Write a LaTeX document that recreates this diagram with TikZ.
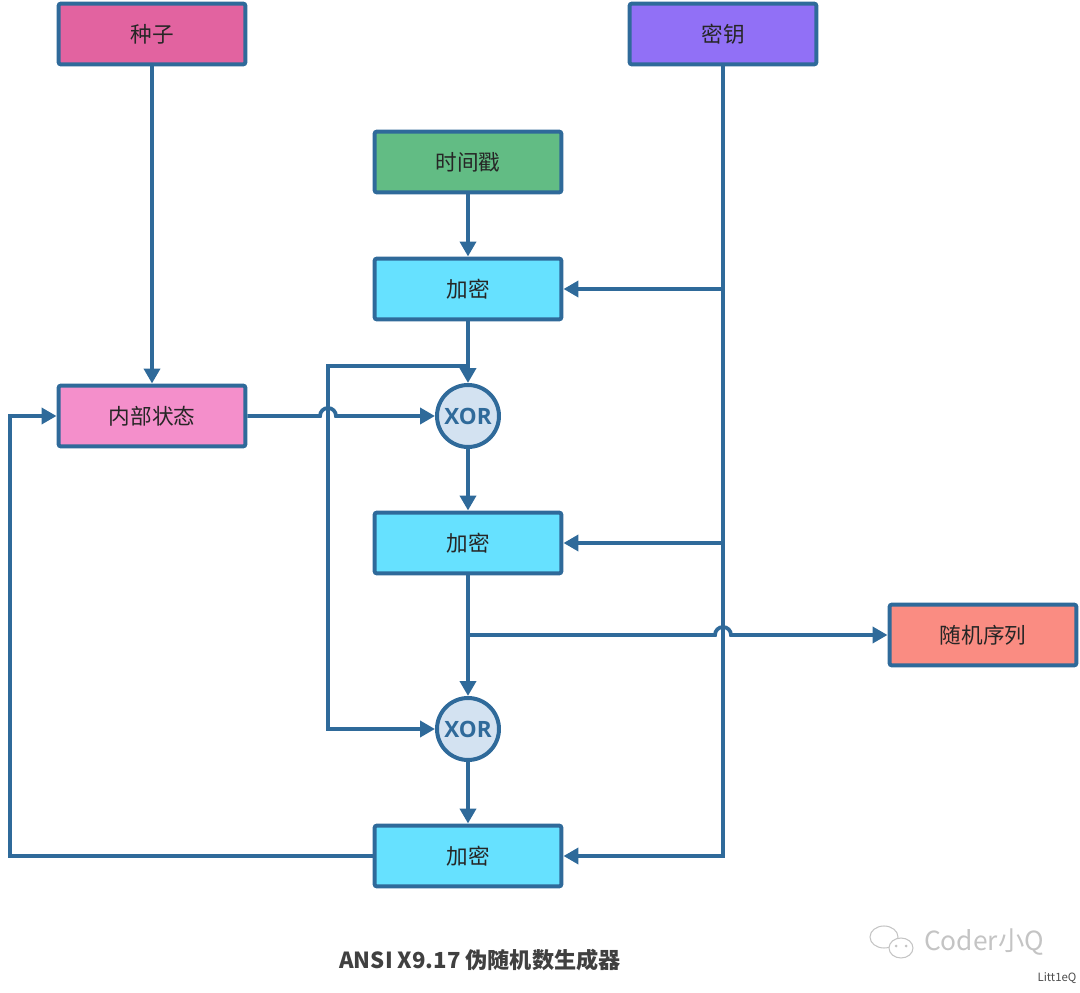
\documentclass[tikz,border=0pt]{standalone}
\usepackage{fontspec}
\setmainfont{Noto Sans CJK SC}
\newfontfamily\xorfont{Open Sans}
\usetikzlibrary{arrows.meta}
\definecolor{ln}{HTML}{2F6A9A}
\definecolor{seedc}{HTML}{E263A0}
\definecolor{keyc}{HTML}{9170F6}
\definecolor{tsc}{HTML}{62BC84}
\definecolor{encc}{HTML}{66E1FF}
\definecolor{statec}{HTML}{F48FCB}
\definecolor{randc}{HTML}{FA8C82}
\definecolor{xorc}{HTML}{D3E2F1}
\definecolor{titlec}{HTML}{404040}
\definecolor{wmc}{HTML}{C4C4C4}
\begin{document}
\begin{tikzpicture}[x=0.02cm,y=-0.02cm,
  box/.style={draw=ln,line width=0.08cm,rounded corners=1.5pt,minimum width=3.74cm,minimum height=1.22cm,inner sep=0pt,font=\fontsize{12.3}{14}\selectfont,text=black!85},
  con/.style={draw=ln,line width=0.075cm},
  arr/.style={con,-{Triangle[length=0.3cm,width=0.32cm]}},
  xor/.style={circle,draw=ln,fill=xorc,line width=0.08cm,minimum size=1.24cm,inner sep=0pt,font=\xorfont\bfseries\fontsize{12.8}{14}\selectfont,text=ln}]
\useasboundingbox (0,0) rectangle (1080,993);
% nodes
\node[box,fill=seedc] (seed) at (152,34) {种子};
\node[box,fill=keyc] (key) at (723,34) {密钥};
\node[box,fill=tsc] (ts) at (468,162) {时间戳};
\node[box,fill=encc] (enc1) at (468,289) {加密};
\node[box,fill=statec] (state) at (152,416) {内部状态};
\node[xor] (xor1) at (468,416) {XOR};
\node[box,fill=encc] (enc2) at (468,543) {加密};
\node[box,fill=randc] (rand) at (983,635) {随机序列};
\node[xor] (xor2) at (468,729) {XOR};
\node[box,fill=encc] (enc3) at (468,856) {加密};
% helper coordinates
\coordinate (sp1) at (468,366);
\coordinate (c1) at (328,366);
\coordinate (sp2) at (468,635);
\coordinate (lb) at (10,416);
% connectors
\draw[arr] (seed) -- (state);
\draw[arr] (ts) -- (enc1);
\draw[arr] (enc1) -- (xor1);
\draw[arr] (xor1) -- (enc2);
\draw[arr] (enc2) -- (xor2);
\draw[arr] (xor2) -- (enc3);
\draw[arr] (key.south) |- (enc3.east);
\draw[arr] (key.south |- enc1.east) -- (enc1.east);
\draw[arr] (key.south |- enc2.east) -- (enc2.east);
\draw[arr] (sp1) -- (c1) |- (xor2.west);
\draw[arr] (state.east) -- ([xshift=-0.16cm]c1 |- state.east) arc[start angle=180,end angle=0,radius=0.16cm] -- (xor1.west);
\draw[arr] (sp2) -- ([xshift=-0.16cm]key.south |- sp2) arc[start angle=180,end angle=0,radius=0.16cm] -- (rand.west);
\draw[arr] (enc3.west) -| (lb) -- (state.west);
% title
\node[font=\bfseries\fontsize{12.6}{14}\selectfont,text=titlec] (title) at (480,960) {ANSI X9.17 伪随机数生成器};
% watermark
\draw[wmc,line width=0.6pt] (884,937) ellipse [x radius=0.28cm,y radius=0.22cm];
\draw[wmc,line width=0.6pt,fill=white] (901,948) ellipse [x radius=0.24cm,y radius=0.2cm];
\fill[wmc] (896,946) circle (0.03cm) (906,946) circle (0.03cm);
\node[font=\fontsize{15}{17}\selectfont,text=wmc] (wm) at (984,942) {Coder小Q};
\node[font=\fontsize{6.5}{8}\selectfont,text=black!70] (wm2) at (1057,978) {Litt1eQ};
\end{tikzpicture}
\end{document}
